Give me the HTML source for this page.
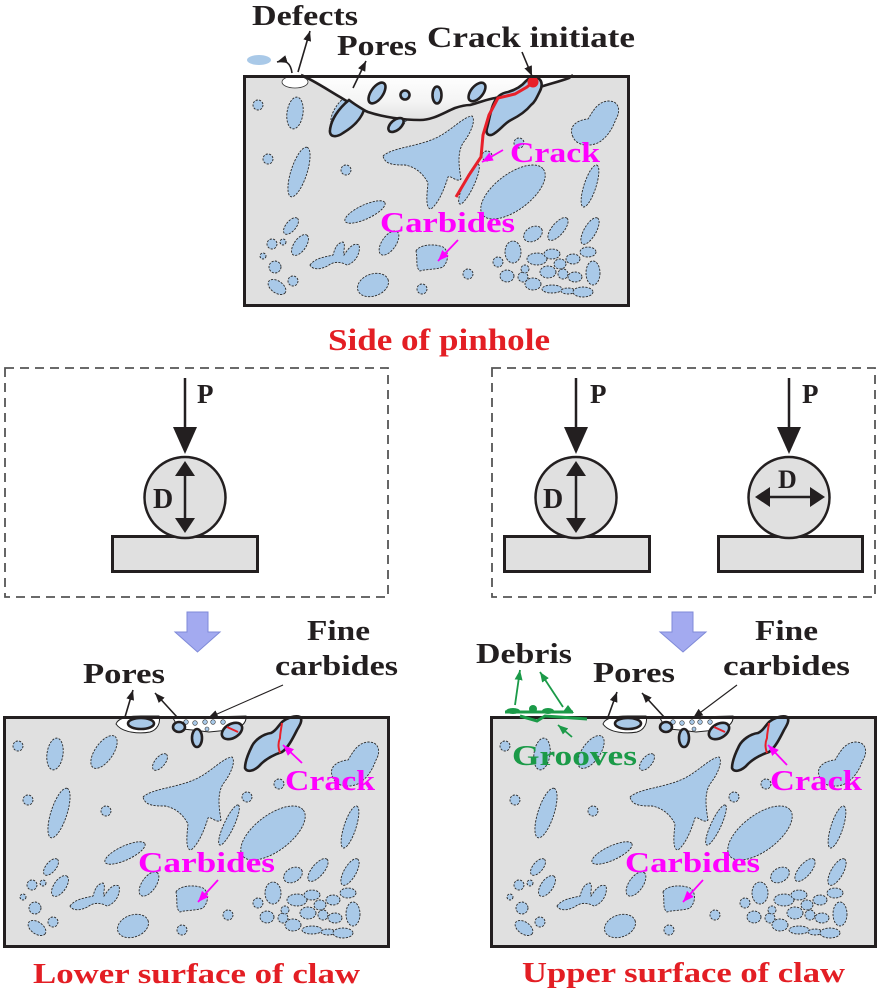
<!DOCTYPE html>
<html><head><meta charset="utf-8"><style>
html,body{margin:0;padding:0;background:#fff;}
svg{display:block;}
.bl ellipse,.bl circle,.bl path{fill:#a9c9e8;stroke:#2a2a2a;stroke-width:0.9;stroke-dasharray:2.2 1.3;}
.tk{fill:#a9c9e8;stroke:#231f20;stroke-width:2.6;}
.t{font-family:"Liberation Serif",serif;font-weight:bold;fill:#231f20;}
.m{fill:#ff00ff;}
.r{fill:#e31e24;}
.g{fill:#1b9a48;}
</style></head><body>
<svg width="879" height="992" viewBox="0 0 879 992" xmlns="http://www.w3.org/2000/svg">
<defs>
<marker id="ak" markerWidth="10" markerHeight="8" refX="10" refY="4" orient="auto" markerUnits="userSpaceOnUse"><path d="M0,0 L10,4 L0,8 Z" fill="#231f20"/></marker>
<marker id="am" markerWidth="11" markerHeight="9" refX="11" refY="4.5" orient="auto" markerUnits="userSpaceOnUse"><path d="M0,0 L11,4.5 L0,9 Z" fill="#ff00ff"/></marker>
<marker id="ag" markerWidth="10" markerHeight="8" refX="10" refY="4" orient="auto" markerUnits="userSpaceOnUse"><path d="M0,0 L10,4 L0,8 Z" fill="#1b9a48"/></marker>
<linearGradient id="wg" x1="0" y1="0" x2="0" y2="1"><stop offset="0" stop-color="#ffffff"/><stop offset="0.6" stop-color="#f4f4f4"/><stop offset="1" stop-color="#e2e2e2"/></linearGradient>
<g id="micro" class="bl">
<circle cx="15" cy="30" r="5"/>
<ellipse cx="52" cy="38" rx="8" ry="16" transform="rotate(8 52 38)"/>
<ellipse cx="101" cy="36" rx="19" ry="9" transform="rotate(-55 101 36)"/>
<ellipse cx="157" cy="46" rx="10" ry="5" transform="rotate(-50 157 46)"/>
<path d="M140,81 C150,72 175,72 195,62 C210,54 220,42 229,41 C233,45 228,58 220,68 C214,78 216,92 218,104 C214,108 208,100 205,102 C202,112 196,128 188,134 C182,134 184,118 185,108 C180,98 172,92 162,90 C152,90 142,90 140,81 Z"/>
<circle cx="244" cy="81" r="5"/>
<circle cx="276" cy="68" r="5"/>
<path d="M330,62 C325,52 333,45 345,44 C350,36 355,26 366,26 C376,26 378,36 373,44 C370,52 366,60 358,66 C350,72 334,72 330,62 Z"/>
<circle cx="25" cy="84" r="5"/>
<ellipse cx="56" cy="97" rx="26" ry="8" transform="rotate(-72 56 97)"/>
<circle cx="103" cy="95" r="5"/>
<ellipse cx="226" cy="109" rx="22" ry="5" transform="rotate(-65 226 109)"/>
<ellipse cx="270" cy="117" rx="38" ry="18" transform="rotate(-37 270 117)"/>
<ellipse cx="347" cy="111" rx="22" ry="6" transform="rotate(-72 347 111)"/>
<ellipse cx="122" cy="137" rx="22" ry="7" transform="rotate(-25 122 137)"/>
<ellipse cx="48" cy="151" rx="10" ry="5" transform="rotate(-50 48 151)"/>
<circle cx="29" cy="169" r="5"/>
<circle cx="40" cy="167" r="3"/>
<circle cx="20" cy="181" r="3"/>
<ellipse cx="57" cy="170" rx="12" ry="6" transform="rotate(-55 57 170)"/>
<circle cx="32" cy="192" r="6"/>
<ellipse cx="34" cy="212" rx="10" ry="6" transform="rotate(35 34 212)"/>
<circle cx="50" cy="206" r="5"/>
<path d="M67,190 C72,183 82,182 90,180 C92,173 94,168 100,167 C103,170 100,176 101,180 C105,174 110,167 116,170 C118,178 112,188 104,190 C98,187 92,186 86,190 C80,194 70,196 67,190 Z"/>
<ellipse cx="146" cy="168" rx="14" ry="7" transform="rotate(-55 146 168)"/>
<path d="M173,176 C176,170 190,168 200,172 C206,176 206,186 200,192 C192,195 182,194 177,196 C172,192 175,185 173,176 Z"/>
<ellipse cx="130" cy="210" rx="16" ry="11" transform="rotate(-20 130 210)"/>
<circle cx="225" cy="199" r="5"/>
<circle cx="179" cy="214" r="5"/>
<ellipse cx="270" cy="177" rx="8" ry="11"/>
<ellipse cx="290" cy="159" rx="10" ry="7" transform="rotate(-30 290 159)"/>
<ellipse cx="315" cy="154" rx="14" ry="6" transform="rotate(-50 315 154)"/>
<ellipse cx="347" cy="156" rx="15" ry="6" transform="rotate(-60 347 156)"/>
<circle cx="255" cy="187" r="5"/>
<ellipse cx="264" cy="201" rx="7" ry="6"/>
<circle cx="280" cy="202" r="5"/>
<ellipse cx="290" cy="209" rx="8" ry="6"/>
<ellipse cx="294" cy="184" rx="10" ry="6"/>
<ellipse cx="309" cy="179" rx="8" ry="5"/>
<ellipse cx="317" cy="189" rx="6" ry="5"/>
<ellipse cx="305" cy="197" rx="8" ry="6"/>
<circle cx="320" cy="199" r="5"/>
<ellipse cx="330" cy="184" rx="7" ry="5"/>
<ellipse cx="332" cy="202" rx="7" ry="5"/>
<ellipse cx="350" cy="198" rx="7" ry="12"/>
<ellipse cx="309" cy="214" rx="10" ry="4"/>
<ellipse cx="325" cy="216" rx="7" ry="3"/>
<ellipse cx="340" cy="217" rx="10" ry="5"/>
<ellipse cx="345" cy="177" rx="8" ry="5"/>
<circle cx="282" cy="194" r="4"/>
</g>
<g id="surf">
<path d="M113,8 C115,2 124,0 138,0 L156,0 C158,7 154,14 147,16 C137,18 119,17 113,8 Z" fill="#fff" stroke="#222" stroke-width="1"/>
<ellipse cx="138" cy="7.5" rx="13" ry="5.5" class="tk"/>
<path d="M170,2 L243,0 C244,8 236,13 226,14 L206,16 C196,15 186,13 176,13 Z" fill="#fff" stroke="#222" stroke-width="1"/>
<g fill="#a9c9e8" stroke="#333" stroke-width="0.6">
<circle cx="183" cy="6" r="2.3"/><circle cx="192" cy="7" r="2.3"/><circle cx="202" cy="6" r="2.3"/><circle cx="210" cy="6" r="2.3"/><circle cx="220" cy="6" r="2.3"/><circle cx="204" cy="13" r="2"/>
</g>
<ellipse cx="176" cy="11" rx="6" ry="5" class="tk"/>
<ellipse cx="194" cy="22" rx="5" ry="9" class="tk"/>
<ellipse cx="229" cy="15" rx="11" ry="7" transform="rotate(-30 229 15)" class="tk"/>
<line x1="224" y1="11" x2="235" y2="16" stroke="#e8202a" stroke-width="2"/>
<path d="M297,1 C292,-1 284,2 279,6 C275,10 273,15 268,17 C260,18 252,24 249,30 C245,38 242,46 242,52 C244,57 252,55 258,48 C263,43 270,39 279,36 C285,32 290,22 294,14 C297,9 300,4 297,1 Z" class="tk"/>
<path d="M279,7 C278,14 277,18 277,22 C275,27 275,31 277,37" fill="none" stroke="#e8202a" stroke-width="2"/>
</g>
</defs>

<!-- TOP PANEL -->
<rect x="244.5" y="76.5" width="384" height="229" fill="#e0e0e0"/>
<use href="#micro" transform="translate(243,75)"/>
<g transform="translate(243,75)">
<path d="M58,0 C70,5 85,15 97,22 C108,29 115,33 125,37 C140,42 160,45 177,45 C190,45 200,38 212,33 C218,31 222,30 227,30 C238,27 245,24 252,23 C270,20 285,16 297,12 C310,8 318,6 326,3 L330,0 Z" fill="url(#wg)"/>
<path d="M58,0 C70,5 85,15 97,22 C108,29 115,33 125,37 C140,42 160,45 177,45 C190,45 200,38 212,33 C218,31 222,30 227,30 C238,27 245,24 252,23 C270,20 285,16 297,12 C310,8 318,6 326,3 L330,0" fill="none" stroke="#231f20" stroke-width="2.6"/>
<ellipse cx="52" cy="7" rx="13" ry="6" fill="#fff" stroke="#333" stroke-width="0.8"/>
<ellipse cx="134" cy="18" rx="12" ry="6" transform="rotate(-55 134 18)" class="tk"/>
<circle cx="162" cy="20" r="4.5" class="tk"/>
<ellipse cx="194" cy="20" rx="4.5" ry="8.5" class="tk"/>
<ellipse cx="234" cy="17" rx="11" ry="6" transform="rotate(-50 234 17)" class="tk"/>
<path d="M106,25 C111,29 116,32 121,35 C118,44 110,52 100,58 C93,63 86,62 87,55 C88,45 95,34 106,25 Z" class="tk"/>
<ellipse cx="153" cy="50" rx="9" ry="5" transform="rotate(-40 153 50)" class="tk"/>
<path d="M295,3 C300,6 299,12 297,16 C294,22 292,27 288,30 C284,35 278,40 268,45 C262,48 258,54 252,58 C247,62 242,60 244,53 C246,46 247,38 250,30 C253,22 258,18 265,17 C272,15 278,12 283,6 C287,2 292,1 295,3 Z" class="tk"/>
<path d="M290,7 L284,12 L272,19 L255,23 L246,40 L240,60 L238,82 L226,100 L213,122" fill="none" stroke="#e8202a" stroke-width="3"/>
<circle cx="290" cy="7" r="5.5" fill="#e8202a"/>
</g>
<rect x="244.5" y="76.5" width="384" height="229" fill="none" stroke="#231f20" stroke-width="3"/>
<ellipse cx="259" cy="60" rx="12" ry="5" fill="#a9c9e8"/>
<g stroke="#231f20" stroke-width="1.6" fill="none">
<line x1="298" y1="72" x2="310" y2="31" marker-end="url(#ak)"/>
<path d="M292,73 Q290,58 277,62" marker-end="url(#ak)"/>
<line x1="353" y1="88" x2="366" y2="61" marker-end="url(#ak)"/>
<line x1="522" y1="52" x2="532" y2="76" marker-end="url(#ak)"/>
</g>
<g stroke="#ff00ff" stroke-width="1.8">
<line x1="503" y1="150" x2="482" y2="162" marker-end="url(#am)"/>
<line x1="458" y1="240" x2="438" y2="261" marker-end="url(#am)"/>
</g>
<text class="t" x="252" y="25" font-size="28" textLength="106" lengthAdjust="spacingAndGlyphs">Defects</text>
<text class="t" x="337" y="55" font-size="28" textLength="80" lengthAdjust="spacingAndGlyphs">Pores</text>
<text class="t" x="427" y="47" font-size="30" textLength="208" lengthAdjust="spacingAndGlyphs">Crack initiate</text>
<text class="t m" x="510" y="162" font-size="29" textLength="90" lengthAdjust="spacingAndGlyphs">Crack</text>
<text class="t m" x="380" y="232" font-size="29" textLength="135" lengthAdjust="spacingAndGlyphs">Carbides</text>
<text class="t r" x="328" y="350" font-size="31" textLength="222" lengthAdjust="spacingAndGlyphs">Side of pinhole</text>

<!-- MIDDLE LEFT -->
<rect x="5" y="368" width="383" height="229" fill="none" stroke="#555" stroke-width="1.8" stroke-dasharray="9 6"/>
<line x1="185" y1="378" x2="185" y2="430" stroke="#231f20" stroke-width="2.5"/>
<polygon points="173,427 197,427 185,454" fill="#231f20"/>
<rect x="112.5" y="536.5" width="145" height="35" fill="#e0e0e0" stroke="#231f20" stroke-width="3"/>
<circle cx="185" cy="497.5" r="40.5" fill="#e0e0e0" stroke="#231f20" stroke-width="2.5"/>
<line x1="185" y1="472" x2="185" y2="522" stroke="#231f20" stroke-width="2.5"/>
<polygon points="185,461 175,476 195,476" fill="#231f20"/>
<polygon points="185,533 175,518 195,518" fill="#231f20"/>
<text class="t" x="197" y="403" font-size="27">P</text>
<text class="t" x="153" y="508" font-size="28">D</text>

<!-- MIDDLE RIGHT -->
<rect x="492" y="368" width="383" height="229" fill="none" stroke="#555" stroke-width="1.8" stroke-dasharray="9 6"/>
<line x1="576" y1="378" x2="576" y2="430" stroke="#231f20" stroke-width="2.5"/>
<polygon points="564,427 588,427 576,454" fill="#231f20"/>
<rect x="504.5" y="536.5" width="145" height="35" fill="#e0e0e0" stroke="#231f20" stroke-width="3"/>
<circle cx="576" cy="497.5" r="40.5" fill="#e0e0e0" stroke="#231f20" stroke-width="2.5"/>
<line x1="576" y1="472" x2="576" y2="522" stroke="#231f20" stroke-width="2.5"/>
<polygon points="576,461 566,476 586,476" fill="#231f20"/>
<polygon points="576,533 566,518 586,518" fill="#231f20"/>
<text class="t" x="590" y="403" font-size="27">P</text>
<text class="t" x="543" y="508" font-size="28">D</text>

<line x1="789" y1="378" x2="789" y2="430" stroke="#231f20" stroke-width="2.5"/>
<polygon points="777,427 801,427 789,454" fill="#231f20"/>
<rect x="718.5" y="536.5" width="144" height="35" fill="#e0e0e0" stroke="#231f20" stroke-width="3"/>
<circle cx="789" cy="497.5" r="40.5" fill="#e0e0e0" stroke="#231f20" stroke-width="2.5"/>
<line x1="766" y1="497" x2="814" y2="497" stroke="#231f20" stroke-width="2.5"/>
<polygon points="755,497 770,487 770,507" fill="#231f20"/>
<polygon points="825,497 810,487 810,507" fill="#231f20"/>
<text class="t" x="802" y="403" font-size="27">P</text>
<text class="t" x="778" y="488" font-size="26">D</text>

<!-- BLUE ARROWS -->
<polygon points="187,612 208,612 208,632 220,632 197.5,652 175,632 187,632" fill="#a3aaf0" stroke="#7f8ad8" stroke-width="1"/>
<polygon points="672,612 693,612 693,632 706,632 683,652 660,632 672,632" fill="#a3aaf0" stroke="#7f8ad8" stroke-width="1"/>

<!-- BOTTOM LEFT -->
<rect x="4.5" y="717.5" width="384" height="229" fill="#e0e0e0"/>
<use href="#micro" transform="translate(3,716)"/>
<use href="#surf" transform="translate(3,716)"/>
<rect x="4.5" y="717.5" width="384" height="229" fill="none" stroke="#231f20" stroke-width="3"/>
<g stroke="#231f20" stroke-width="1.6">
<line x1="125" y1="717" x2="133" y2="690" marker-end="url(#ak)"/>
<line x1="177" y1="717" x2="155" y2="693" marker-end="url(#ak)"/>
<line x1="283" y1="685" x2="208" y2="718" stroke-width="1.1" marker-end="url(#ak)"/>
</g>
<g stroke="#ff00ff" stroke-width="1.8">
<line x1="302" y1="763" x2="283" y2="745" marker-end="url(#am)"/>
<line x1="218" y1="880" x2="198" y2="902" marker-end="url(#am)"/>
</g>
<text class="t" x="83" y="683" font-size="28" textLength="82" lengthAdjust="spacingAndGlyphs">Pores</text>
<text class="t" x="307" y="640" font-size="28" textLength="63" lengthAdjust="spacingAndGlyphs">Fine</text>
<text class="t" x="275" y="675" font-size="28" textLength="123" lengthAdjust="spacingAndGlyphs">carbides</text>
<text class="t m" x="285" y="790" font-size="29" textLength="90" lengthAdjust="spacingAndGlyphs">Crack</text>
<text class="t m" x="138" y="872" font-size="29" textLength="137" lengthAdjust="spacingAndGlyphs">Carbides</text>
<text class="t r" x="33" y="983" font-size="28" textLength="327" lengthAdjust="spacingAndGlyphs">Lower surface of claw</text>

<!-- BOTTOM RIGHT -->
<rect x="491.5" y="717.5" width="384" height="229" fill="#e0e0e0"/>
<use href="#micro" transform="translate(490,716)"/>
<use href="#surf" transform="translate(490,716)"/>
<rect x="491.5" y="717.5" width="384" height="229" fill="none" stroke="#231f20" stroke-width="3"/>
<g fill="#1b9a48" stroke="#1b9a48">
<line x1="505" y1="712" x2="573" y2="712" stroke-width="3"/>
<ellipse cx="513" cy="711" rx="7" ry="3" stroke="none"/>
<circle cx="533" cy="709" r="4" stroke="none"/>
<ellipse cx="548" cy="711" rx="6" ry="3" stroke="none"/>
<polygon points="562,713 568,705 574,713" stroke="none"/>
<polyline points="520,716 537,721 545,716 587,719" fill="none" stroke-width="3"/>
</g>
<g stroke="#1b9a48" stroke-width="1.8">
<line x1="515" y1="705" x2="520" y2="670" marker-end="url(#ag)"/>
<line x1="563" y1="707" x2="540" y2="672" marker-end="url(#ag)"/>
<line x1="572" y1="737" x2="558" y2="725" marker-end="url(#ag)"/>
</g>
<g stroke="#231f20" stroke-width="1.6">
<line x1="608" y1="717" x2="617" y2="692" marker-end="url(#ak)"/>
<line x1="665" y1="718" x2="642" y2="693" marker-end="url(#ak)"/>
<line x1="737" y1="685" x2="693" y2="718" stroke-width="1.1" marker-end="url(#ak)"/>
</g>
<g stroke="#ff00ff" stroke-width="1.8">
<line x1="787" y1="765" x2="768" y2="745" marker-end="url(#am)"/>
<line x1="703" y1="880" x2="683" y2="902" marker-end="url(#am)"/>
</g>
<text class="t" x="476" y="663" font-size="28" textLength="96" lengthAdjust="spacingAndGlyphs">Debris</text>
<text class="t" x="593" y="682" font-size="28" textLength="82" lengthAdjust="spacingAndGlyphs">Pores</text>
<text class="t" x="755" y="640" font-size="28" textLength="63" lengthAdjust="spacingAndGlyphs">Fine</text>
<text class="t" x="723" y="675" font-size="28" textLength="127" lengthAdjust="spacingAndGlyphs">carbides</text>
<text class="t g" x="512" y="765" font-size="29" textLength="125" lengthAdjust="spacingAndGlyphs">Grooves</text>
<text class="t m" x="770" y="790" font-size="29" textLength="92" lengthAdjust="spacingAndGlyphs">Crack</text>
<text class="t m" x="625" y="872" font-size="29" textLength="135" lengthAdjust="spacingAndGlyphs">Carbides</text>
<text class="t r" x="522" y="982" font-size="29" textLength="323" lengthAdjust="spacingAndGlyphs">Upper surface of claw</text>
</svg>
</body></html>
